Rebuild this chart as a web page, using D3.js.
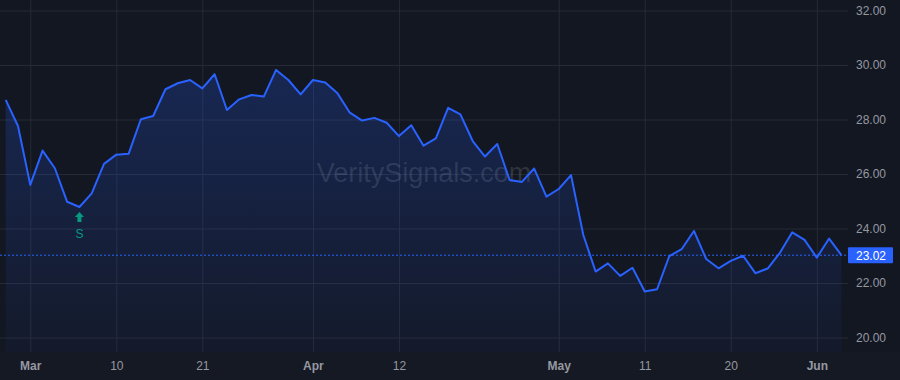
<!DOCTYPE html>
<html>
<head>
<meta charset="utf-8">
<script src="https://cdn.jsdelivr.net/npm/d3@7"></script>
<style>
  html, body { margin: 0; padding: 0; background: #131722; }
  svg { display: block; font-family: "Liberation Sans", Arial, sans-serif; }
</style>
</head>
<body>
<svg id="chart" width="900" height="380"></svg>
<script>
(function (d3) {

    // closing prices, one per trading day
    var prices = [
        28.72, 27.76, 25.60, 26.86, 26.21, 24.98, 24.79, 25.29, 26.37, 26.71,
        26.74, 28.01, 28.13, 29.11, 29.33, 29.45, 29.14, 29.66, 28.35, 28.74,
        28.90, 28.84, 29.82, 29.45, 28.92, 29.45, 29.36, 28.96, 28.25, 27.96,
        28.06, 27.88, 27.39, 27.79, 27.04, 27.31, 28.43, 28.19, 27.21, 26.64,
        27.10, 25.78, 25.71, 26.20, 25.17, 25.45, 25.96, 23.76, 22.42, 22.72,
        22.26, 22.56, 21.69, 21.77, 22.99, 23.24, 23.91, 22.88, 22.54, 22.81,
        23.00, 22.36, 22.53, 23.11, 23.86, 23.58, 22.93, 23.63, 23.02
    ];

    var xTickIndex = [2, 9, 16, 25, 32, 45, 52, 59, 66];
    var xTickLabels = ['Mar', '10', '21', 'Apr', '12', 'May', '11', '20', 'Jun'];
    var monthLabels = ['Mar', 'Apr', 'May', 'Jun'];

    var yTicks = [20, 22, 24, 26, 28, 30, 32];

    var signalIndex = [6];
    var signalLabels = ['S'];

    var lastPrice = 23.02;

    var plotRight = 848,
        plotBottom = 352;

    var svg = d3.select('#chart');

    var xScale = d3.scaleLinear().domain([0, prices.length - 1]).range([5.7, 841.4]);
    var yScale = d3.scaleLinear().domain([20, 32]).range([337.5, 10.5]);

    svg.append('rect')
        .attr('width', 900).attr('height', 380)
        .attr('fill', '#131722');

    svg.append('rect')
        .attr('y', plotBottom).attr('width', 900).attr('height', 380 - plotBottom)
        .attr('fill', '#151923');

    var defs = svg.append('defs');
    var grad = defs.append('linearGradient')
        .attr('id', 'areaFill')
        .attr('x1', 0).attr('y1', 0).attr('x2', 0).attr('y2', 1)
        .attr('gradientUnits', 'userSpaceOnUse')
        .attr('y1', yScale(d3.max(prices))).attr('y2', plotBottom);
    grad.append('stop').attr('offset', '0%').attr('stop-color', '#2962ff').attr('stop-opacity', 0.22);
    grad.append('stop').attr('offset', '100%').attr('stop-color', '#2962ff').attr('stop-opacity', 0.04);

    // grid
    var yAxis = d3.axisRight(yScale)
        .tickValues(yTicks)
        .tickSizeInner(-plotRight)
        .tickSizeOuter(0)
        .tickPadding(10)
        .tickFormat(d3.format('.2f'));

    var yg = svg.append('g')
        .attr('class', 'y axis')
        .attr('transform', 'translate(' + plotRight + ',0)')
        .call(yAxis);
    yg.select('.domain').remove();
    yg.selectAll('line').attr('stroke', '#262a35').attr('stroke-width', 1);
    yg.selectAll('text')
        .attr('fill', '#9598a1')
        .attr('font-size', 12)
        .attr('x', 8);

    var xAxis = d3.axisBottom(xScale)
        .tickValues(xTickIndex)
        .tickSizeInner(-plotBottom)
        .tickSizeOuter(0)
        .tickPadding(10)
        .tickFormat(function (d, i) { return xTickLabels[i]; });

    var xg = svg.append('g')
        .attr('class', 'x axis')
        .attr('transform', 'translate(0,' + plotBottom + ')')
        .call(xAxis);
    xg.select('.domain').remove();
    xg.selectAll('line').attr('stroke', '#262a35').attr('stroke-width', 1);
    xg.selectAll('text')
        .attr('fill', '#9598a1')
        .attr('font-size', 12)
        .attr('y', 18)
        .attr('dy', 0)
        .attr('font-weight', function (d, i) {
            return monthLabels.indexOf(xTickLabels[i]) >= 0 ? 'bold' : 'normal';
        });

    // watermark
    svg.append('text')
        .attr('x', 424)
        .attr('y', 182)
        .attr('text-anchor', 'middle')
        .attr('font-size', 27)
        .attr('fill', '#ffffff')
        .attr('fill-opacity', 0.13)
        .text('VeritySignals.com');

    var area = d3.area()
        .x(function (d, i) { return xScale(i); })
        .y0(plotBottom)
        .y1(function (d) { return yScale(d); });

    var line = d3.line()
        .x(function (d, i) { return xScale(i); })
        .y(function (d) { return yScale(d); });

    svg.append('path')
        .attr('d', area(prices))
        .attr('fill', 'url(#areaFill)');

    svg.append('path')
        .attr('d', line(prices))
        .attr('fill', 'none')
        .attr('stroke', '#2962ff')
        .attr('stroke-width', 2)
        .attr('stroke-linejoin', 'round');

    // last price line
    svg.append('line')
        .attr('x1', 0).attr('x2', plotRight)
        .attr('y1', yScale(lastPrice)).attr('y2', yScale(lastPrice))
        .attr('stroke', '#2962ff')
        .attr('stroke-width', 1)
        .attr('stroke-dasharray', '2,2');

    svg.append('rect')
        .attr('x', plotRight).attr('y', yScale(lastPrice) - 8)
        .attr('width', 45).attr('height', 16)
        .attr('rx', 1)
        .attr('fill', '#2962ff');

    svg.append('text')
        .attr('x', plotRight + 8)
        .attr('y', yScale(lastPrice) + 4.5)
        .attr('fill', '#ffffff')
        .attr('font-size', 12)
        .text(d3.format('.2f')(lastPrice));

    // signal markers
    signalIndex.forEach(function (idx, i) {
        var cx = xScale(idx),
            top = yScale(prices[idx]) + 5;
        svg.append('path')
            .attr('d', 'M' + cx + ',' + top +
                ' l4.5,5 h-2.5 v5 h-4 v-5 h-2.5 z')
            .attr('fill', '#089981');
        svg.append('text')
            .attr('x', cx)
            .attr('y', top + 26)
            .attr('text-anchor', 'middle')
            .attr('font-size', 12)
            .attr('fill', '#089981')
            .text(signalLabels[i]);
    });

})(d3);
</script>
</body>
</html>
